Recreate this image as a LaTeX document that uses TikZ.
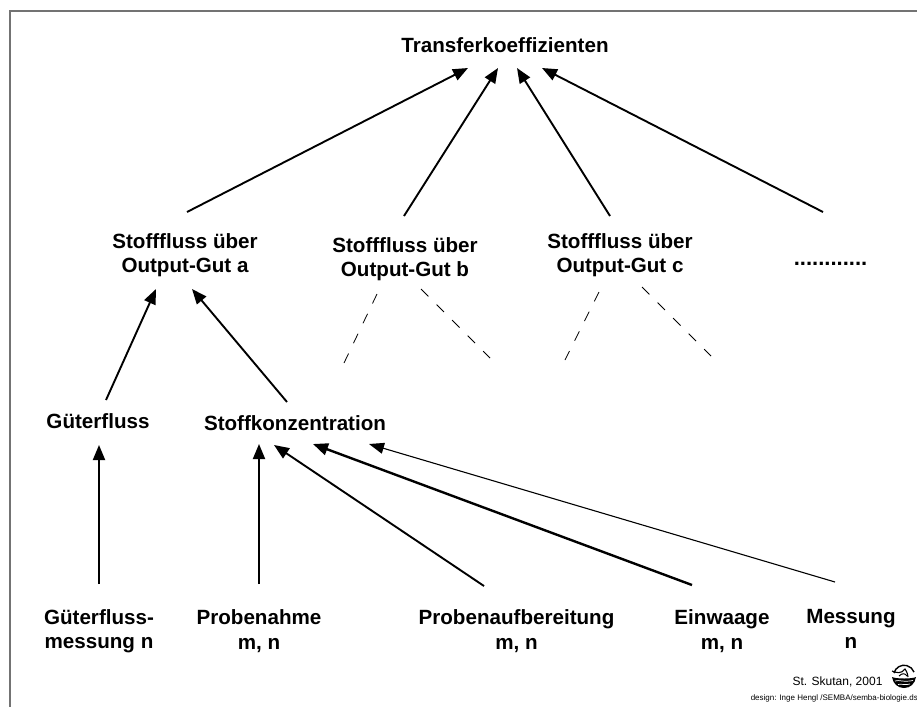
\documentclass[tikz,border=0pt]{standalone}
\usepackage{fontspec}
\setmainfont{Liberation Sans}
\usetikzlibrary{arrows.meta}
\tikzset{
  lab/.style={font=\fontsize{20.6}{24.5}\selectfont\bfseries, align=center, inner sep=0pt},
  arr/.style={-{Triangle[length=15pt,width=12pt]}, line width=1.9pt},
  arrthin/.style={-{Triangle[length=15pt,width=11pt]}, line width=1.1pt},
  arrthick/.style={-{Triangle[length=15pt,width=12pt]}, line width=2.4pt},
  dashline/.style={line width=.8pt, dash pattern=on 10.5pt off 11.5pt},
}
\begin{document}
\begin{tikzpicture}[x=1pt,y=-1pt]
\useasboundingbox (0,0) rectangle (917,707);
\draw[line width=2pt, black!55] (917,11) -- (10,11) -- (10,707);
\node[lab] (trans) at (505,45) {Transferkoeffizienten};
\node[lab] (outa) at (185,255) {Stofffluss über\\Output-Gut a};
\node[lab] (outb) at (405,259) {Stofffluss über\\Output-Gut b};
\node[lab] (outc) at (620,255) {Stofffluss über\\Output-Gut c};
\node[lab, scale=1.07] (outd) at (830.5,264) {............};
\node[lab] (gut) at (98,421) {Güterfluss};
\node[lab] (konz) at (295,423) {Stoffkonzentration};
\node[lab] (gutm) at (99,631) {Güterfluss-\\messung n};
\node[lab] (probe) at (259,631) {Probenahme\\m, n};
\node[lab] (aufb) at (516.5,631) {Probenaufbereitung\\m, n};
\node[lab] (einw) at (722,631) {Einwaage\\m, n};
\node[lab] (mess) at (851,629) {Messung\\n};
\coordinate (bl) at (344,363);
\coordinate (br) at (490,358);
\coordinate (cl) at (565,360);
\coordinate (cr) at (711,356);
\draw[arr] ([shift={(2,-43)}]outa.center) -- ([shift={(-37,23)}]trans.center);
\draw[arr] ([shift={(-1,-43)}]outb.center) -- ([shift={(-7,23)}]trans.center);
\draw[arr] ([shift={(-10,-39)}]outc.center) -- ([shift={(12,23)}]trans.center);
\draw[arr] ([shift={(-7.5,-52)}]outd.center) -- ([shift={(37,23)}]trans.center);
\draw[dashline] ([shift={(-28,35)}]outb.center) -- (bl);
\draw[dashline] ([shift={(16,30)}]outb.center) -- (br);
\draw[dashline] ([shift={(-21,37)}]outc.center) -- (cl);
\draw[dashline] ([shift={(22,32)}]outc.center) -- (cr);
\draw[arr] ([shift={(8,-21)}]gut.center) -- ([shift={(-29,34)}]outa.center);
\draw[arr] ([shift={(-8,-21)}]konz.center) -- ([shift={(7,34)}]outa.center);
\draw[arr] ([shift={(0,-47)}]gutm.center) -- ([shift={(1,24)}]gut.center);
\draw[arr] ([shift={(0,-47)}]probe.center) -- ([shift={(-36,21)}]konz.center);
\draw[arr] ([shift={(-32.5,-45)}]aufb.center) -- ([shift={(-21,22)}]konz.center);
\draw[arrthick] ([shift={(-30,-46)}]einw.center) -- ([shift={(18,21)}]konz.center);
\draw[arrthin] ([shift={(-16,-47)}]mess.center) -- ([shift={(74,21)}]konz.center);
\node[font=\fontsize{12}{14}\selectfont, inner sep=0pt] (sign) at (837.5,682) {St. Skutan, 2001};
\node[font=\fontsize{8}{9}\selectfont, inner sep=0pt, anchor=east] (design) at (918,698) {design: Inge Hengl /SEMBA/semba-biologie.ds};
% logo
\draw[line width=1.4pt] (894,673) arc (-165:-20:10.5);
\fill (892,677) .. controls (896,679) and (912,679) .. (916,677) .. controls (915,684) and (910,688) .. (904,688) .. controls (898,688) and (893,684) .. (892,677) -- cycle;
\draw[line width=1.1pt] (892,671) .. controls (897,673) and (901,674) .. (905,669) .. controls (907,672) and (908,675) .. (908,677);
\draw[line width=1pt] (899,676) .. controls (902,673) and (905,673) .. (907,676);
\draw[white, line width=.7pt] (895,681) .. controls (899,679.5) and (903,682.5) .. (913,680.5);
\draw[white, line width=.7pt] (898,684.5) .. controls (901,683.5) and (905,685.5) .. (910,684);
\end{tikzpicture}
\end{document}
